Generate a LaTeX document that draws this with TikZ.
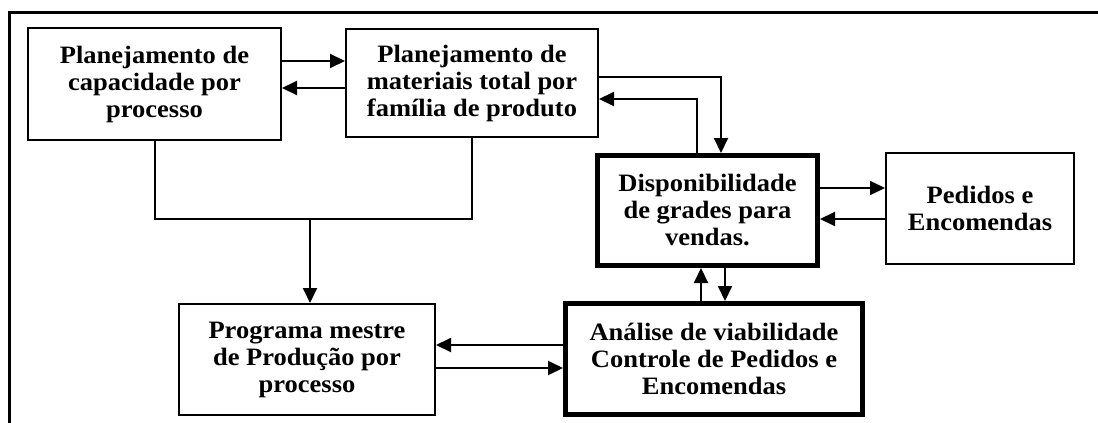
\documentclass[tikz,border=0pt]{standalone}
\usepackage{fontspec}
\newfontfamily\boxfont{Liberation Serif}[FakeStretch=1.06]
\usetikzlibrary{arrows.meta}
\tikzset{
  box/.style={draw, line width=2pt, align=center, inner sep=0pt,
    font=\boxfont\bfseries\fontsize{25}{27}\selectfont},
  thickbox/.style={box, line width=5pt},
  arr/.style={line width=2pt, -{Triangle[length=15pt,width=14pt]}},
  conn/.style={line width=2pt},
  frame/.style={line width=3pt}
}
\begin{document}
\begin{tikzpicture}[x=1pt,y=-1pt]
\useasboundingbox (0,0) rectangle (1098,423);
% outer frame (top and left only)
\coordinate (FTR) at (1098,12.5);
\coordinate (FTL) at (8,12.5);
\coordinate (FBL) at (9.5,423);
\draw[frame] (FTR) -- (FTL);
\draw[frame] (9.5,11) -- (FBL);
% boxes
\node[box, minimum width=253pt, minimum height=112pt] (A) at (154.5,84)
  {Planejamento de\\capacidade por\\processo};
\node[box, minimum width=252pt, minimum height=108pt] (B) at (472,83)
  {Planejamento de\\materiais total por\\família de produto};
\node[thickbox, minimum width=220pt, minimum height=110pt] (C) at (707.5,210.5)
  {Disponibilidade\\de grades para\\vendas.};
\node[box, minimum width=188pt, minimum height=111pt] (D) at (980,208.5)
  {Pedidos e\\Encomendas};
\node[box, minimum width=256pt, minimum height=111pt] (E) at (307,359.5)
  {Programa mestre\\de Produção por\\processo};
\node[thickbox, minimum width=297pt, minimum height=111pt] (F) at (714,359)
  {Análise de viabilidade\\Controle de Pedidos e\\Encomendas};
% connectors
\draw[arr] (A.east |- 0,61) -- (B.west |- 0,61);
\draw[arr] (B.west |- 0,88) -- (A.east |- 0,88);
\draw[arr] (B.east |- 0,77) -| (C.north -| 721,0);
\draw[arr] (C.north -| 697,0) |- (B.east |- 0,99);
\draw[arr] (C.east |- 0,188) -- (D.west |- 0,188);
\draw[arr] (D.west |- 0,219) -- (C.east |- 0,219);
\draw[arr] (F.north -| 701,0) -- (C.south -| 701,0);
\draw[arr] (C.south -| 725,0) -- (F.north -| 725,0);
\draw[arr] (F.west |- 0,345) -- (E.east |- 0,345);
\draw[arr] (E.east |- 0,368) -- (F.west |- 0,368);
\coordinate (J) at (310,219);
\draw[conn] (A.south -| 155,0) |- (J) -| (B.south -| 472,0);
\draw[arr] (J) -- (E.north -| J);
\end{tikzpicture}
\end{document}
